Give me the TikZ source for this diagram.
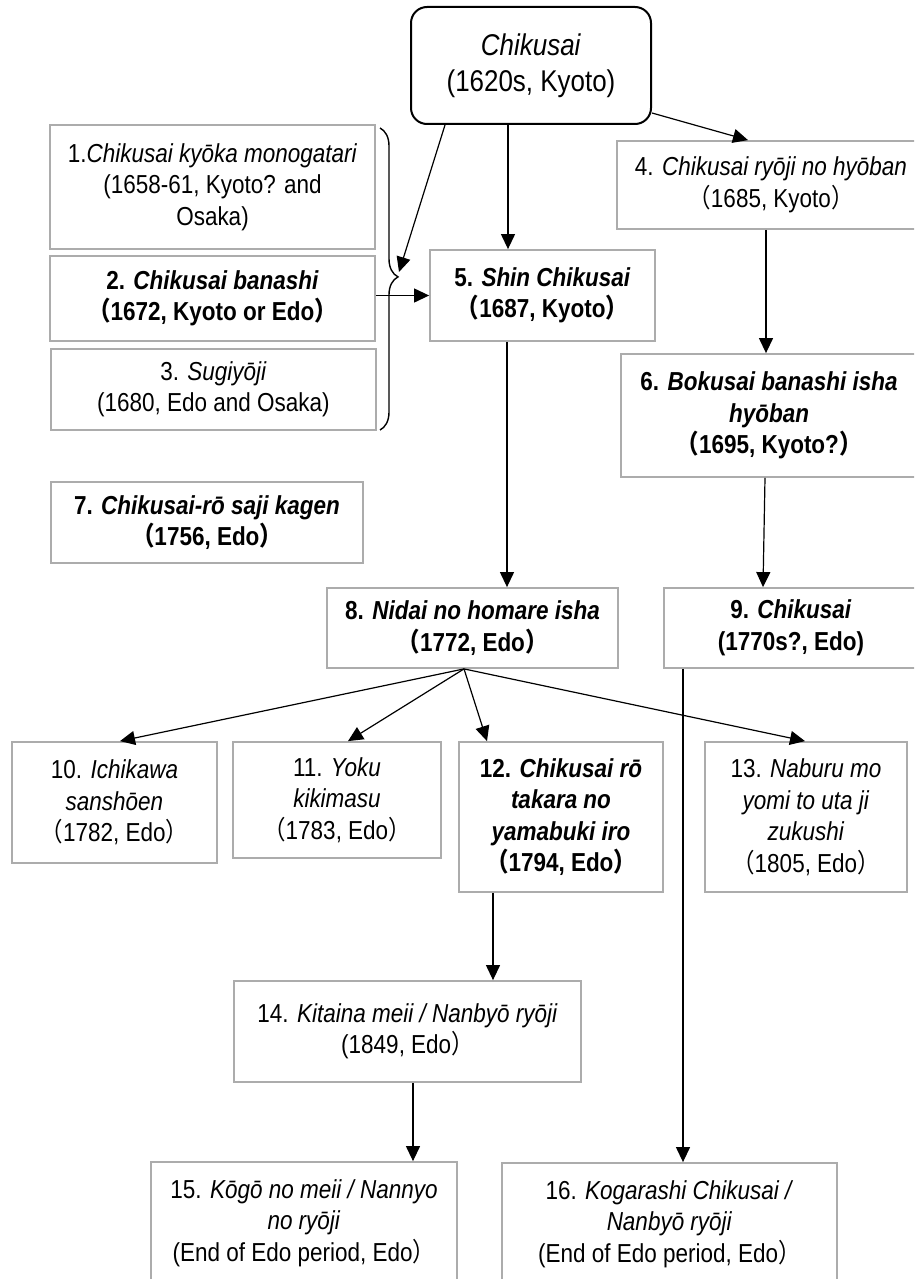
\documentclass[tikz,border=0pt]{standalone}
\usepackage{fontspec}
\setmainfont{Liberation Sans}[FakeStretch=0.865]
\newfontfamily\cjk{Noto Sans CJK JP}[FakeStretch=0.865]
\usetikzlibrary{arrows.meta,decorations.pathreplacing}
\definecolor{boxgray}{RGB}{172,172,172}
\newcommand\flp{{\cjk （}}
\newcommand\frp{{\cjk ）}}
\newcommand\fsz{\fontsize{26}{31.5}\selectfont}
\begin{document}
\begin{tikzpicture}[x=1pt,y=-1pt,
  box/.style={draw=boxgray, line width=1.8pt, align=center, inner sep=0pt, font=\fsz},
  bbox/.style={box, font=\fsz\bfseries},
  arr/.style={-{Triangle[length=15pt,width=14pt]}, line width=1.2pt}]
\fill[white] (0,0) rectangle (914,1279);
\useasboundingbox (0,0) rectangle (914,1279);
\clip (0,0) rectangle (914,1279);

% top
\node[draw=black, line width=2pt, rounded corners=16pt, minimum width=240pt, minimum height=117pt,
  align=center, inner sep=0pt, font=\fontsize{30}{36}\selectfont] (top) at (531,65.5)
  {\textit{Chikusai}\\(1620s, Kyoto)};

% left group
\node[box, minimum width=325pt, minimum height=124pt] (b1) at (212.5,187)
  {1.\textit{Chikusai kyōka monogatari}\\(1658-61, Kyoto? and\\Osaka)};
\node[bbox, minimum width=325pt, minimum height=85pt] (b2) at (212.5,298.5)
  {2. \textit{Chikusai banashi}\\\flp 1672, Kyoto or Edo\frp};
\node[box, minimum width=325pt, minimum height=81pt] (b3) at (213.5,389.5)
  {3. \textit{Sugiyōji}\\(1680, Edo and Osaka)};
\draw[line width=1.4pt, decorate, decoration={brace, amplitude=18pt, aspect=0.493}] (380,128) -- (380,430);
\coordinate (brtip) at (399,272);

% right column
\node[box, minimum width=308pt, minimum height=88pt] (b4) at (771,185)
  {4. \textit{Chikusai ryōji no hyōban}\\\flp 1685, Kyoto\frp};
\node[bbox, minimum width=225pt, minimum height=91pt] (b5) at (542.5,295.5)
  {5. \textit{Shin Chikusai}\\\flp 1687, Kyoto\frp};
\node[bbox, minimum width=296pt, minimum height=123pt] (b6) at (769,415.5)
  {6. \textit{Bokusai banashi isha}\\\textit{hyōban}\\\flp 1695, Kyoto?\frp};
\node[bbox, minimum width=312pt, minimum height=81pt] (b7) at (207,522.5)
  {7. \textit{Chikusai-rō saji kagen}\\\flp 1756, Edo\frp};
\node[bbox, minimum width=291pt, minimum height=80pt] (b8) at (472.5,628)
  {8. \textit{Nidai no homare isha}\\\flp 1772, Edo\frp};
\node[bbox, minimum width=254pt, minimum height=80pt] (b9) at (791,628)
  {9. \textit{Chikusai}\\(1770s?, Edo)};

% row of four
\node[box, minimum width=205pt, minimum height=121pt] (b10) at (114.5,802.5)
  {10. \textit{Ichikawa}\\\textit{sanshōen}\\\flp 1782, Edo\frp};
\node[box, minimum width=208pt, minimum height=116pt] (b11) at (337,800)
  {11. \textit{Yoku}\\\textit{kikimasu}\\\flp 1783, Edo\frp};
\node[bbox, minimum width=204pt, minimum height=150pt] (b12) at (561,817)
  {12. \textit{Chikusai rō}\\\textit{takara no}\\\textit{yamabuki iro}\\\flp 1794, Edo\frp};
\node[box, minimum width=202pt, minimum height=150pt] (b13) at (806,817)
  {13. \textit{Naburu mo}\\\textit{yomi to uta ji}\\\textit{zukushi}\\\flp 1805, Edo\frp};

% lower
\node[box, minimum width=347pt, minimum height=101pt] (b14) at (407.5,1031.5)
  {14. \textit{Kitaina meii / Nanbyō ryōji}\\(1849, Edo\frp};
\node[box, minimum width=306pt, minimum height=122pt] (b15) at (304,1223)
  {15. \textit{Kōgō no meii / Nannyo}\\\textit{no ryōji}\\(End of Edo period, Edo\frp};
\node[box, minimum width=335pt, minimum height=122pt] (b16) at (669.5,1224)
  {16. \textit{Kogarashi Chikusai /}\\\textit{Nanbyō ryōji}\\(End of Edo period, Edo\frp};

% connectors
\draw[arr] ([xshift=-23pt]top.south) -- ([xshift=-34.5pt]b5.north);
\draw[arr] ([yshift=-47.5pt]top.east) -- ([xshift=-23pt]b4.north);
\draw[arr] ([xshift=-86pt]top.south) -- (brtip);
\draw[arr] (b2.east |- b5.west) -- (b5.west);
\draw[arr] ([xshift=-5pt]b4.south) -- ([xshift=-3pt]b6.north);
\draw[arr] ([xshift=-35.5pt]b5.south) -- ([xshift=34.5pt]b8.north);
\draw[arr] ([xshift=-4pt]b6.south) -- ([xshift=-28pt]b9.north);
\coordinate (p8) at ([xshift=-8.5pt]b8.south);
\draw[arr] (p8) -- ([xshift=5.5pt]b10.north);
\draw[arr] (p8) -- ([xshift=11pt]b11.north);
\draw[arr] (p8) -- ([xshift=-74pt]b12.north);
\draw[arr] (p8) -- ([xshift=-1pt]b13.north);
\draw[arr] ([xshift=-68pt]b12.south) -- ([xshift=85.5pt]b14.north);
\draw[arr] ([xshift=5.5pt]b14.south) -- ([xshift=109pt]b15.north);
\draw[arr] ([xshift=-108pt]b9.south) -- ([xshift=13.5pt]b16.north);
\end{tikzpicture}
\end{document}
